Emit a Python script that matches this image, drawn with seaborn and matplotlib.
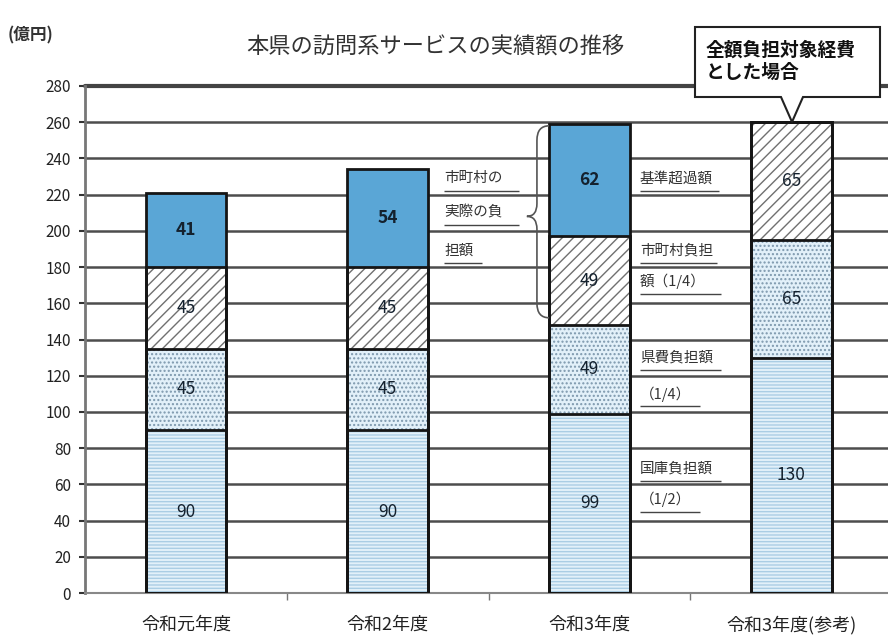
import matplotlib
matplotlib.use('Agg')
import matplotlib.pyplot as plt
import seaborn as sns
import pandas as pd
import numpy as np
from matplotlib.path import Path
from matplotlib.patches import PathPatch, Polygon
from matplotlib.ticker import FixedLocator

categories = ['令和元年度', '令和2年度', '令和3年度', '令和3年度(参考)']
national = [90, 90, 99, 130]    # 国庫負担額 (1/2)
prefecture = [45, 45, 49, 65]   # 県費負担額 (1/4)
municipal = [45, 45, 49, 65]    # 市町村負担額 (1/4)
excess = [41, 54, 62, 0]        # 基準超過額
yticks = list(range(0, 281, 20))

sns.set_theme(style='white')
plt.rcParams['font.family'] = ['Noto Sans CJK JP', 'DejaVu Sans']
plt.rcParams['hatch.linewidth'] = 1.0

W, H = 888, 637
fig = plt.figure(figsize=(W / 100, H / 100), dpi=100)
ax = fig.add_axes([85 / W, 1 - 593 / H, (W - 85) / W, (593 - 86) / H])

c1 = np.array(national)
c2 = c1 + np.array(prefecture)
c3 = c2 + np.array(municipal)
c4 = c3 + np.array(excess)
df = pd.DataFrame({'cat': categories, 'c1': c1, 'c2': c2, 'c3': c3, 'c4': c4})

layers = [('c4', '#5aa6d6', None, '#5aa6d6'),
          ('c3', 'white', '///', '#707070'),
          ('c2', '#e2f0f9', '....', '#7d98ad'),
          ('c1', '#e2f0f9', '-----', '#aacde4')]
for col, fc, hatch, hc in layers:
    sns.barplot(data=df, x='cat', y=col, order=categories, color=fc, saturation=1,
                width=0.4, hatch=hatch, edgecolor=hc, linewidth=0, ax=ax, zorder=2)
for col in ['c4', 'c3', 'c2', 'c1']:
    sns.barplot(data=df, x='cat', y=col, order=categories, fill=False, color='#151515',
                linewidth=2, width=0.4, ax=ax, zorder=3)

ax.set_xlim(-0.5, 3.48)
ax.set_ylim(0, 280)
ax.set_xlabel('')
ax.set_ylabel('')
ax.set_yticks(yticks)
ax.set_yticklabels([str(v) for v in yticks])
ax.set_axisbelow(True)
ax.yaxis.grid(True, color='#4d4d4d', lw=1.8)
ax.axhline(280, color='#444', lw=3, clip_on=False, zorder=1)

ax.set_xticks(range(len(categories)))
ax.set_xticklabels(categories)
ax.xaxis.set_minor_locator(FixedLocator([0.5, 1.5, 2.5]))
ax.tick_params(axis='x', which='major', length=0, pad=16, labelsize=13, labelcolor='#222')
ax.tick_params(axis='x', which='minor', bottom=True, length=5, width=1, color='#777', direction='out')
ax.tick_params(axis='y', left=True, length=4, width=1.5, color='#333', direction='out',
               labelsize=11, labelcolor='#222', pad=6)
for s in ['top', 'right']:
    ax.spines[s].set_visible(False)
ax.spines['left'].set_color('#777')
ax.spines['left'].set_linewidth(2)
ax.spines['bottom'].set_color('#888')
ax.spines['bottom'].set_linewidth(1.5)

# value labels
for i in range(len(categories)):
    segs = [(0, c1[i]), (c1[i], c2[i]), (c2[i], c3[i]), (c3[i], c4[i])]
    vals = [national[i], prefecture[i], municipal[i], excess[i]]
    for k, ((lo, hi), v) in enumerate(zip(segs, vals)):
        if v > 0:
            ax.text(i, (lo + hi) / 2, str(v), ha='center', va='center', fontsize=12.5,
                    color='#14212e', fontweight='bold' if k == 3 else 'normal', zorder=5)

# side notes
def note(x, y, s, ul_len):
    ax.text(x, y, s, ha='left', va='center', fontsize=10.5, color='#333', zorder=5)
    ax.plot([x, x + ul_len], [y - 7, y - 7], color='#444', lw=1, zorder=5, solid_capstyle='butt')

note(1.28, 229, '市町村の', 0.37)
note(1.28, 210, '実際の負', 0.37)
note(1.28, 189, '担額', 0.19)

note(2.25, 229, '基準超過額', 0.39)
note(2.25, 189, '市町村負担', 0.38)
note(2.25, 172, '額（1/4）', 0.40)
note(2.25, 130, '県費負担額', 0.40)
note(2.25, 110, '（1/4）', 0.30)
note(2.25, 69, '国庫負担額', 0.40)
note(2.25, 52, '（1/2）', 0.30)

# brace
verts = [(1.80, 258), (1.74, 258), (1.74, 250),
         (1.74, 215),
         (1.74, 208), (1.69, 208),
         (1.74, 208), (1.74, 201),
         (1.74, 160),
         (1.74, 152), (1.80, 152)]
codes = [Path.MOVETO, Path.CURVE3, Path.CURVE3,
         Path.LINETO,
         Path.CURVE3, Path.CURVE3,
         Path.CURVE3, Path.CURVE3,
         Path.LINETO,
         Path.CURVE3, Path.CURVE3]
ax.add_patch(PathPatch(Path(verts, codes), fill=False, edgecolor='#555', lw=1.2, zorder=5))

# title and unit
fig.text(435 / W, 1 - 47 / H, '本県の訪問系サービスの実績額の推移', ha='center', va='center',
         fontsize=16, color='#333')
fig.text(8 / W, 1 - 35 / H, '(億円)', ha='left', va='center', fontsize=12,
         fontweight='bold', color='#333')

# callout
pts = [(695, 27), (880, 27), (880, 97), (803, 97), (792, 122), (781, 97), (695, 97)]
poly = Polygon([(x / W, 1 - y / H) for x, y in pts], closed=True, facecolor='white',
               edgecolor='#222', lw=1.5, transform=fig.transFigure, zorder=10)
fig.add_artist(poly)
fig.text(706 / W, 1 - 50 / H, '全額負担対象経費', ha='left', va='center', fontsize=13.5,
         fontweight='bold', color='#111', zorder=11)
fig.text(706 / W, 1 - 72 / H, 'とした場合', ha='left', va='center', fontsize=13.5,
         fontweight='bold', color='#111', zorder=11)

fig.savefig('out.png', dpi=100)
